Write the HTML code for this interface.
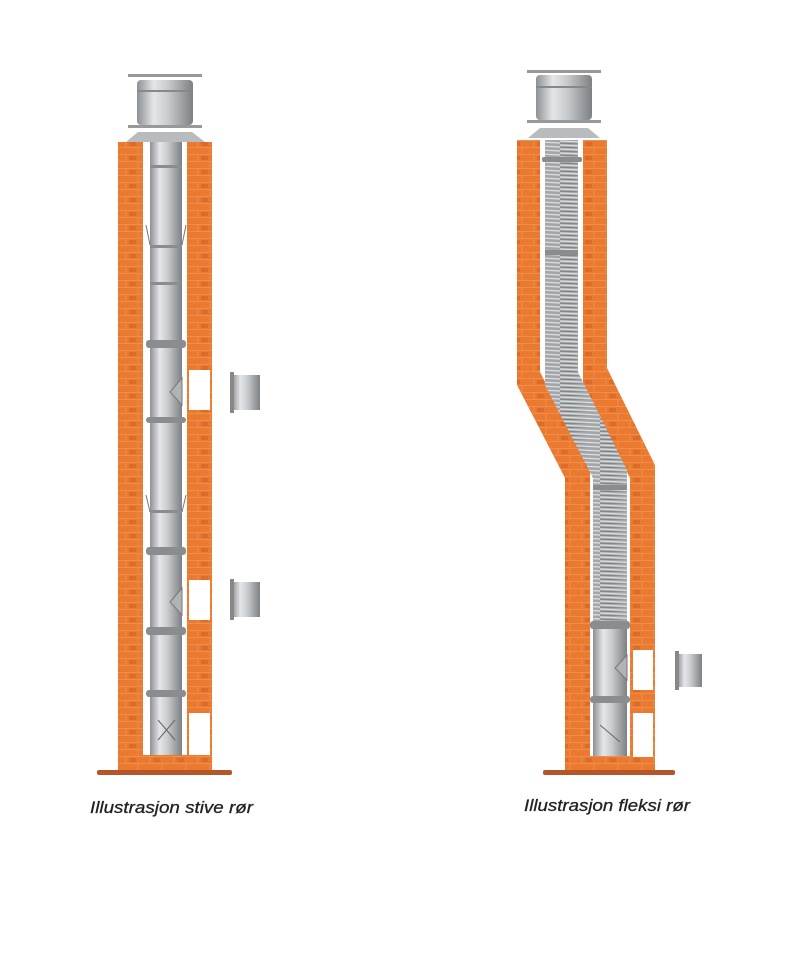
<!DOCTYPE html>
<html><head><meta charset="utf-8"><style>
html,body{margin:0;padding:0;background:#fff;width:802px;height:960px;overflow:hidden}
svg{display:block}
text{font-family:"Liberation Sans",sans-serif;font-style:italic;font-size:17px;fill:#222;stroke:#222;stroke-width:0.3}
</style></head><body>
<svg width="802" height="960" viewBox="0 0 802 960" xmlns="http://www.w3.org/2000/svg">
<defs>
<pattern id="brick" width="24" height="14" patternUnits="userSpaceOnUse">
<rect width="24" height="14" fill="#e97a2f"/>
<path d="M0 0.5H24M0 7.5H24M6 0V7M18 7V14" stroke="#f29455" stroke-width="0.8"/>
<rect x="9" y="2" width="7" height="4" fill="#dc6c2a"/>
</pattern>
<linearGradient id="pipe" x1="0" x2="1">
<stop offset="0" stop-color="#8d9094"/><stop offset="0.3" stop-color="#e4e6e8"/><stop offset="0.55" stop-color="#c9ccce"/><stop offset="1" stop-color="#7d8084"/>
</linearGradient>
<pattern id="flex" width="40" height="4" patternUnits="userSpaceOnUse">
<rect width="40" height="4" fill="#a4a7aa"/>
<path d="M0 1L40 3" stroke="#dcdee0" stroke-width="1.2"/>
<path d="M0 3.2L40 4.8" stroke="#6d7074" stroke-width="0.6"/>
</pattern>
</defs>

<!-- LEFT CHIMNEY -->
<rect x="118" y="142" width="25" height="628" fill="url(#brick)"/>
<rect x="187" y="142" width="25" height="628" fill="url(#brick)"/>
<rect x="143" y="755" width="44" height="15" fill="url(#brick)"/>
<rect x="97" y="770" width="135" height="5" rx="2" fill="#b5562a"/>
<rect x="189" y="370" width="21" height="40" fill="#fff"/>
<rect x="189" y="580" width="21" height="40" fill="#fff"/>
<rect x="189" y="713" width="21" height="42" fill="#fff"/>
<rect x="150" y="142" width="32" height="613" fill="url(#pipe)"/>
<g fill="#8a8d90">
<rect x="146" y="340" width="40" height="8" rx="3"/>
<rect x="146" y="417" width="40" height="6" rx="3"/>
<rect x="146" y="547" width="40" height="8" rx="3"/>
<rect x="146" y="627" width="40" height="8" rx="3"/>
<rect x="146" y="690" width="40" height="7" rx="3"/>
<rect x="150" y="165" width="32" height="3"/>
<rect x="150" y="245" width="32" height="3"/>
<rect x="150" y="282" width="32" height="3"/>
<rect x="150" y="510" width="32" height="3"/>
</g>
<path d="M146 225L150 245M186 225L182 245M146 495L150 512M186 495L182 512" stroke="#777" fill="none"/>
<path d="M182 378L170 392L182 405Z" fill="#b0b3b6" stroke="#777"/>
<path d="M182 588L170 602L182 615Z" fill="#b0b3b6" stroke="#777"/>
<path d="M158 720L175 740M158 740L175 720" stroke="#666"/>
<!-- cap left -->
<path d="M138 132L192 132L205 142L126 142Z" fill="#b9bcbf"/>
<rect x="128" y="125" width="74" height="3" fill="#999"/>
<rect x="137" y="80" width="56" height="45" rx="4" fill="url(#pipe)"/>
<rect x="128" y="74" width="74" height="3" fill="#999"/>
<rect x="137" y="90" width="56" height="2" fill="#888"/>
<!-- stubs left -->
<rect x="232" y="375" width="28" height="35" fill="url(#pipe)"/>
<rect x="230" y="372" width="4" height="41" fill="#888"/>
<rect x="232" y="582" width="28" height="35" fill="url(#pipe)"/>
<rect x="230" y="579" width="4" height="41" fill="#888"/>

<!-- RIGHT CHIMNEY -->
<polygon points="517,140 540,140 540,372 590,470 590,770 565,770 565,478 517,385" fill="url(#brick)"/>
<polygon points="583,140 607,140 607,368 655,465 655,770 630,770 630,478 583,385" fill="url(#brick)"/>
<rect x="590" y="756" width="40" height="14" fill="url(#brick)"/>
<rect x="543" y="770" width="132" height="5" rx="2" fill="#b5562a"/>
<rect x="633" y="650" width="20" height="40" fill="#fff"/>
<rect x="633" y="713" width="20" height="44" fill="#fff"/>
<!-- flex pipe -->
<path d="M545 140L578 140L578 372L627 470L627 630L593 630L593 478L545 385Z" fill="url(#flex)"/>
<rect x="593" y="625" width="34" height="131" fill="url(#pipe)"/>
<g fill="#8a8d90">
<rect x="542" y="157" width="40" height="5" rx="2"/>
<rect x="545" y="250" width="33" height="5"/>
<rect x="593" y="485" width="34" height="5"/>
<rect x="590" y="621" width="40" height="8" rx="3"/>
<rect x="590" y="696" width="40" height="7" rx="3"/>
</g>
<path d="M627 655L615 668L627 680Z" fill="#b0b3b6" stroke="#777"/>
<path d="M600 725L620 742" stroke="#666"/>
<!-- cap right -->
<path d="M540 128L588 128L600 138L528 138Z" fill="#b9bcbf"/>
<rect x="527" y="120" width="74" height="3" fill="#999"/>
<rect x="536" y="75" width="56" height="45" rx="4" fill="url(#pipe)"/>
<rect x="527" y="70" width="74" height="3" fill="#999"/>
<rect x="536" y="86" width="56" height="2" fill="#888"/>
<!-- stub right -->
<rect x="677" y="654" width="25" height="33" fill="url(#pipe)"/>
<rect x="675" y="651" width="4" height="39" fill="#888"/>

<text x="90" y="813" textLength="163" lengthAdjust="spacingAndGlyphs">Illustrasjon stive rør</text>
<text x="524" y="811" textLength="166" lengthAdjust="spacingAndGlyphs">Illustrasjon fleksi rør</text>
</svg>
</body></html>
